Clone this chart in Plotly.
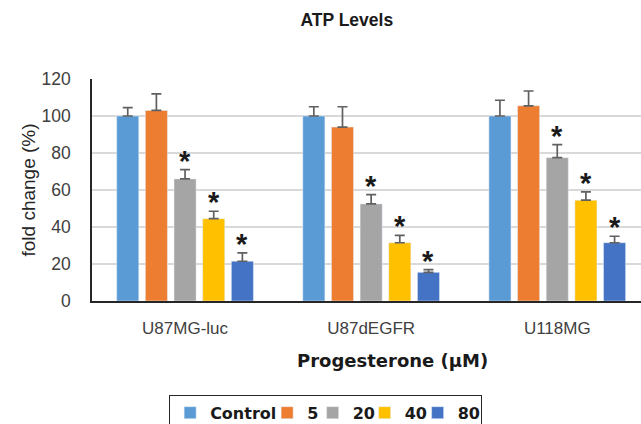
import plotly.graph_objects as go

cell_lines = ["U87MG-luc", "U87dEGFR", "U118MG"]
doses = ["Control", "5", "20", "40", "80"]
colors = ["#5B9BD5", "#ED7D31", "#A5A5A5", "#FFC000", "#4472C4"]

values = {
    "Control": [100, 100, 100],
    "5": [103, 94, 105.5],
    "20": [66, 52.5, 77.5],
    "40": [44.5, 31.5, 54.5],
    "80": [21.5, 15.5, 31.5],
}
errors = {
    "Control": [4.5, 5, 8.5],
    "5": [9, 11, 8],
    "20": [5, 5, 7],
    "40": [4, 4, 4.5],
    "80": [4.5, 1.5, 3.5],
}
significant = {"Control": False, "5": False, "20": True, "40": True, "80": True}

# layout constants
L, R, T, B = 92, 0, 79, 123
W, H = 641, 424
x_range = [-0.5, 2.45]
bargap, bargroupgap = 0.23, 0.23
legend_entry_widths = [52, 0.5, 7, 8, 18]  # px reserved for each legend label

fig = go.Figure()
for d, c, lw in zip(doses, colors, legend_entry_widths):
    fig.add_trace(go.Bar(
        name="<b>" + d + "</b>", x=cell_lines, y=values[d], marker_color=c,
        legendwidth=lw,
        error_y=dict(type="data", array=errors[d], arrayminus=[0] * 3,
                     color="#606060", thickness=1.7, width=5),
    ))

# asterisks above significant bars
plot_w = W - L - R
px_per_cat = plot_w / (x_range[1] - x_range[0])
slot = px_per_cat * (1 - bargap) / len(doses)
for i, d in enumerate(doses):
    if not significant[d]:
        continue
    shift = (i - (len(doses) - 1) / 2) * slot
    for j, cl in enumerate(cell_lines):
        fig.add_annotation(x=cl, y=values[d][j] + errors[d][j], xref="x", yref="y",
                           text="<b>*</b>", showarrow=False, xshift=shift, yshift=-9,
                           yanchor="bottom",
                           font=dict(family="Arial", size=29, color="#1a1a1a"))

# x-axis title
fig.add_annotation(text="<b>Progesterone (µM)</b>", xref="paper", yref="paper",
                   x=0.548, y=-0.266, xanchor="center", yanchor="middle",
                   showarrow=False,
                   font=dict(family="DejaVu Sans", size=18, color="#1a1a1a"))

fig.update_layout(
    width=W, height=H,
    margin=dict(l=L, r=R, t=T, b=B),
    paper_bgcolor="white", plot_bgcolor="white",
    barmode="group", bargap=bargap, bargroupgap=bargroupgap,
    font=dict(family="Arial", color="#404040"),
    title=dict(text="<b>ATP Levels</b>", x=0.541, xanchor="center", y=0.953,
               yanchor="middle", font=dict(size=17.5, color="#1a1a1a")),
    showlegend=True,
    legend=dict(orientation="h", x=0.508, xanchor="center", xref="container",
                y=0.069, yref="container", yanchor="top",
                bordercolor="#262626", borderwidth=1,
                font=dict(size=16, color="#1a1a1a", family="DejaVu Sans"),
                itemwidth=30, tracegroupgap=0),
    xaxis=dict(range=x_range, showline=True, linecolor="#262626", linewidth=1.5,
               tickfont=dict(size=17, color="#404040"), ticks="",
               ticklabelstandoff=11, automargin=False),
    yaxis=dict(range=[0, 120], dtick=20, showline=True, linecolor="#262626",
               linewidth=1.5, gridcolor="#D9D9D9", gridwidth=1.5,
               tickfont=dict(size=17.5, color="#404040"), ticklabelstandoff=16,
               zeroline=False, automargin=False,
               title=dict(text="fold change (%)", standoff=1,
                          font=dict(size=19, color="#262626"))),
)

fig.write_html("out.html", config={"displayModeBar": False},
               post_script="document.body.style.margin='0';document.body.style.overflow='hidden';")
